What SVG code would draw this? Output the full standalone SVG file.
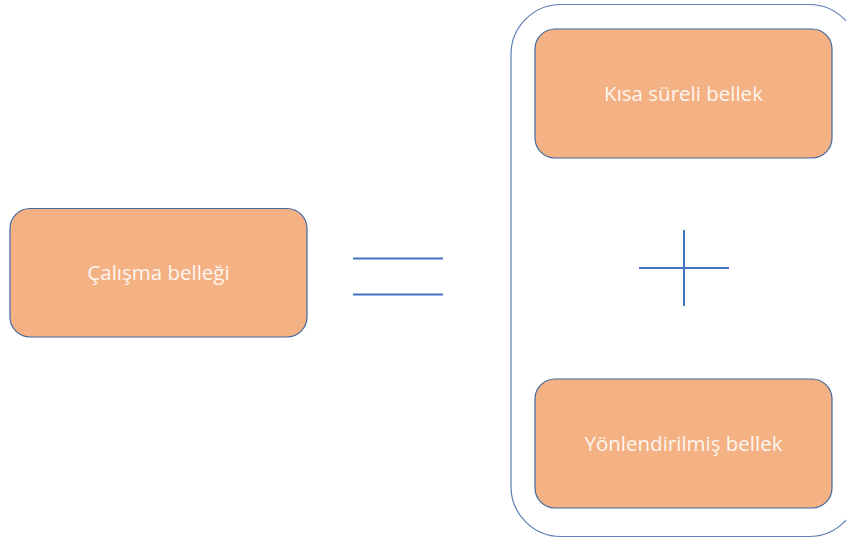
<svg xmlns="http://www.w3.org/2000/svg" width="846" height="543" viewBox="0 0 846 543">
<style>
.box{fill:#F4B183;stroke:#41689F;stroke-width:1.2}
.lbl{fill:#FDF6F0;font-family:"Open Sans","Liberation Sans",sans-serif;font-size:20.5px;text-anchor:middle}
.ln{stroke:#4472C4;stroke-width:2;fill:none}
</style>
<rect width="846" height="543" fill="#ffffff"/>
<g id="container">
<rect x="511" y="4.5" width="348" height="532" rx="50" ry="50" fill="none" stroke="#5B7DB5" stroke-width="1.2"/>
</g>
<g id="calisma">
<rect class="box" x="10" y="208.5" width="297" height="128.5" rx="20" ry="20"/>
<text class="lbl" x="158.5" y="280">Çalışma belleği</text>
</g>
<g id="kisa">
<rect class="box" x="535" y="29" width="297" height="129" rx="20" ry="20"/>
<text class="lbl" x="683.5" y="100.5">Kısa süreli bellek</text>
</g>
<g id="yonlendirilmis">
<rect class="box" x="535" y="379" width="297" height="129" rx="20" ry="20"/>
<text class="lbl" x="683.5" y="450.5">Yönlendirilmiş bellek</text>
</g>
<g id="connectors">
<line class="ln" x1="353" y1="258.5" x2="443" y2="258.5"/>
<line class="ln" x1="353" y1="294.5" x2="443" y2="294.5"/>
<line class="ln" x1="639" y1="268" x2="729" y2="268"/>
<line class="ln" x1="684" y1="230" x2="684" y2="306"/>
</g>
</svg>
